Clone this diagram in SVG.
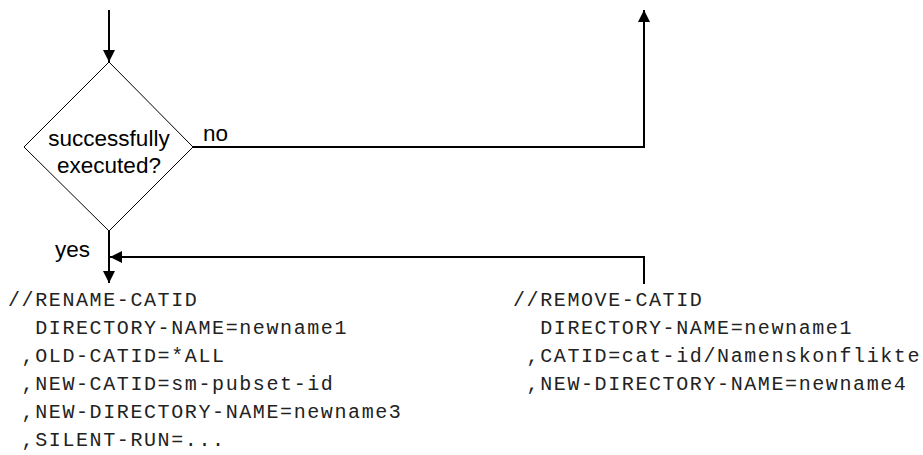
<svg xmlns="http://www.w3.org/2000/svg" width="923" height="455" viewBox="0 0 923 455">
<style>
.lbl{font-family:"Liberation Sans",Arial,sans-serif;font-size:22.5px;fill:#000}
.code{font-family:"Liberation Mono","DejaVu Sans Mono",monospace;font-size:20px;letter-spacing:1.6px;fill:#222;white-space:pre}
.conn{fill:none;stroke:#000;stroke-width:2}
</style>
<defs>
<marker id="arr" markerUnits="userSpaceOnUse" markerWidth="12" markerHeight="12" refX="12" refY="6" orient="auto">
<path d="M0,0 L12,6 L0,12 z" fill="#000"/>
</marker>
</defs>
<rect width="923" height="455" fill="#fff"/>
<g id="connectors">
<path class="conn" d="M109,10 V62" marker-end="url(#arr)"/>
<path class="conn" d="M193,147 H644 V10" marker-end="url(#arr)"/>
<path class="conn" d="M109,231 V283" marker-end="url(#arr)"/>
<path class="conn" d="M644,284 V257 H110" marker-end="url(#arr)"/>
<text class="lbl" x="203" y="141">no</text>
<text class="lbl" x="55" y="257">yes</text>
</g>
<g id="decision">
<polygon points="109,62 193,147 109,231 24,147" fill="#fff" stroke="#000" stroke-width="1"/>
<text class="lbl" x="109" y="146" text-anchor="middle">successfully</text>
<text class="lbl" x="109" y="173" text-anchor="middle">executed?</text>
</g>
<g id="rename-catid">
<text class="code" x="8" y="306">//RENAME-CATID</text>
<text class="code" x="8" y="334">  DIRECTORY-NAME=newname1</text>
<text class="code" x="8" y="362"> ,OLD-CATID=*ALL</text>
<text class="code" x="8" y="390"> ,NEW-CATID=sm-pubset-id</text>
<text class="code" x="8" y="418"> ,NEW-DIRECTORY-NAME=newname3</text>
<text class="code" x="8" y="446"> ,SILENT-RUN=...</text>
</g>
<g id="remove-catid">
<text class="code" x="513" y="306">//REMOVE-CATID</text>
<text class="code" x="513" y="334">  DIRECTORY-NAME=newname1</text>
<text class="code" x="513" y="362"> ,CATID=cat-id/Namenskonflikte</text>
<text class="code" x="513" y="390"> ,NEW-DIRECTORY-NAME=newname4</text>
</g>
</svg>
